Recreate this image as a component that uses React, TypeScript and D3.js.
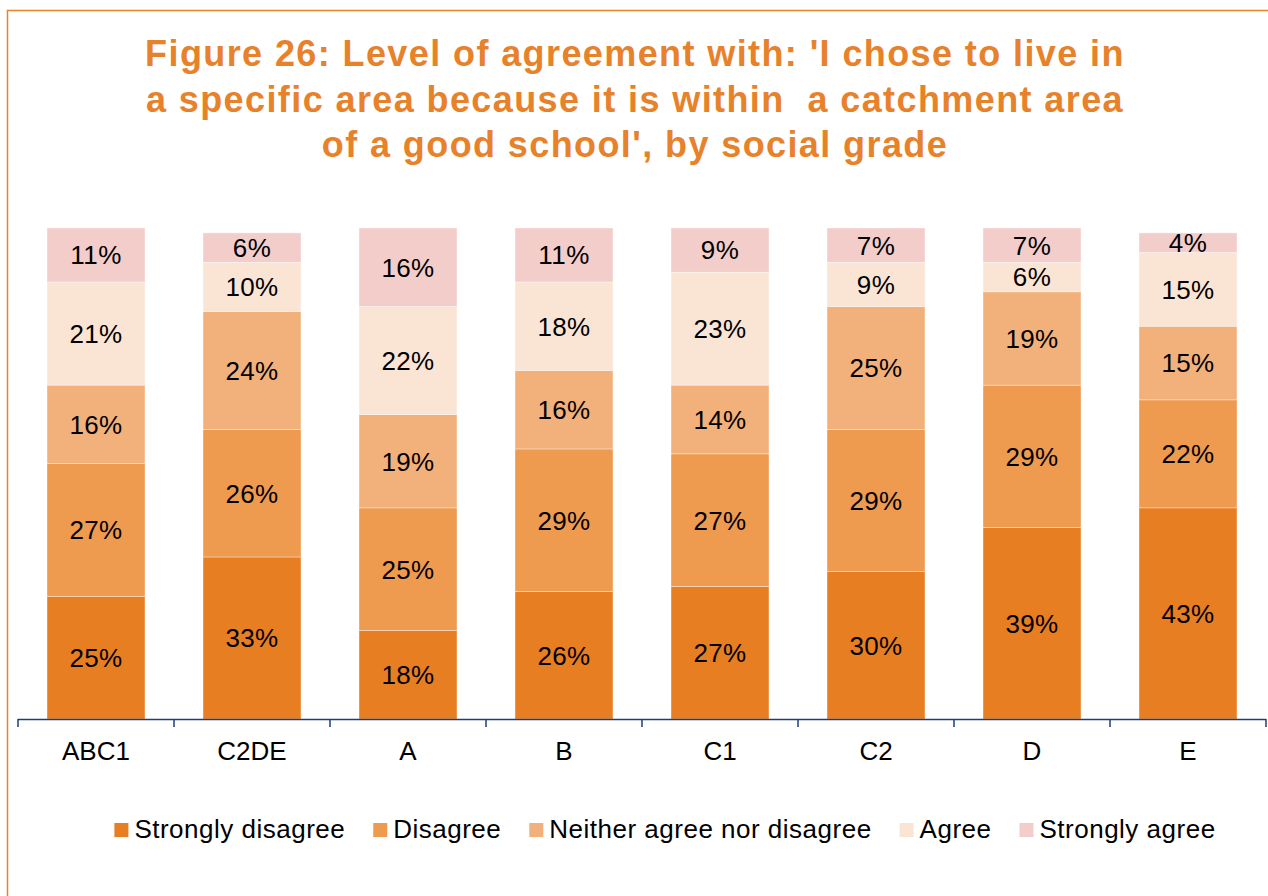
import React, { useEffect, useRef } from "react";
import * as d3 from "d3";

const categories = ["ABC1", "C2DE", "A", "B", "C1", "C2", "D", "E"];
const seriesNames = ["Strongly disagree", "Disagree", "Neither agree nor disagree", "Agree", "Strongly agree"];
const stronglyDisagree = [25, 33, 18, 26, 27, 30, 39, 43];
const disagree = [27, 26, 25, 29, 27, 29, 29, 22];
const neither = [16, 24, 19, 16, 14, 25, 19, 15];
const agree = [21, 10, 22, 18, 23, 9, 6, 15];
const stronglyAgree = [11, 6, 16, 11, 9, 7, 7, 4];
const colors = ["#E77E22", "#EE9A4F", "#F2B07A", "#FAE5D5", "#F3CDCA"];
const titleLines = [
  "Figure 26: Level of agreement with: 'I chose to live in",
  "a specific area because it is within  a catchment area",
  "of a good school', by social grade",
];

const W = 1268;
const H = 896;
const FONT = "'Liberation Sans', Arial, sans-serif";

export default function App() {
  const ref = useRef<SVGSVGElement>(null);
  useEffect(() => {
    const svg = d3.select(ref.current);
    svg.selectAll("*").remove();

    svg.append("rect").attr("x", 7.5).attr("y", 10.5).attr("width", 1290).attr("height", 910)
      .attr("fill", "#fff").attr("stroke", "#E8822A").attr("stroke-width", 1.5);

    svg.append("g").selectAll("text").data(titleLines).join("text")
      .attr("x", 635).attr("y", (_d, i) => 66 + i * 45.5)
      .attr("text-anchor", "middle").attr("font-family", FONT).attr("font-weight", "bold")
      .attr("font-size", 36).attr("letter-spacing", 1.4).attr("fill", "#E8822A").style("white-space", "pre")
      .text(d => d);

    const series = [stronglyDisagree, disagree, neither, agree, stronglyAgree];
    const rows = categories.map((c, i) => {
      const o: any = { cat: c };
      seriesNames.forEach((s, k) => (o[s] = series[k][i]));
      return o;
    });
    const stacked = d3.stack<any>().keys(seriesNames)(rows);

    const x = d3.scaleBand().domain(categories).range([18, 1266]).paddingInner(0.372).paddingOuter(0.186);
    const y = d3.scaleLinear().domain([0, 100]).range([719, 228]);

    const g = svg.append("g");
    stacked.forEach((layer, k) => {
      const lg = g.append("g");
      lg.selectAll("rect").data(layer).join("rect")
        .attr("x", (d: any) => x(d.data.cat)!)
        .attr("width", x.bandwidth())
        .attr("y", (d: any) => y(d[1]))
        .attr("height", (d: any) => y(d[0]) - y(d[1]))
        .attr("fill", colors[k])
        .attr("stroke", "#fff").attr("stroke-width", 0.6).attr("stroke-opacity", 0.6);
      lg.selectAll("text").data(layer).join("text")
        .attr("x", (d: any) => x(d.data.cat)! + x.bandwidth() / 2)
        .attr("y", (d: any) => (y(d[0]) + y(d[1])) / 2)
        .attr("dy", "0.36em")
        .attr("text-anchor", "middle").attr("font-family", FONT).attr("font-size", 26)
        .attr("letter-spacing", 0.4)
        .attr("fill", "#000")
        .text((d: any) => `${d[1] - d[0]}%`);
    });

    // axis
    const ax = svg.append("g");
    ax.append("line").attr("x1", 18).attr("x2", 1266).attr("y1", 719.5).attr("y2", 719.5)
      .attr("stroke", "#1F3C7A").attr("stroke-width", 1.5);
    const tickXs = categories.map(c => x(c)! - x.step() * x.paddingInner() / 2 ).concat([1266]);
    ax.selectAll("line.t").data(tickXs).join("line").attr("class", "t")
      .attr("x1", d => d).attr("x2", d => d).attr("y1", 719).attr("y2", 727)
      .attr("stroke", "#1F3C7A").attr("stroke-width", 1.5);
    ax.selectAll("text").data(categories).join("text")
      .attr("x", d => x(d)! + x.bandwidth() / 2).attr("y", 760)
      .attr("text-anchor", "middle").attr("font-family", FONT).attr("font-size", 26)
      .attr("fill", "#000").text(d => d);

    // legend
    const leg = svg.append("g");
    const items = leg.selectAll("g").data(seriesNames).join("g");
    items.append("rect").attr("width", 14).attr("height", 14).attr("y", 823)
      .attr("fill", (_d, i) => colors[i]);
    items.append("text").attr("x", 20).attr("y", 838).attr("font-family", FONT)
      .attr("font-size", 26).attr("letter-spacing", 0.5).attr("fill", "#000").text(d => d);
    const widths: number[] = [];
    items.each(function () {
      const t = d3.select(this).select("text").node() as SVGTextElement;
      widths.push(20 + t.getComputedTextLength());
    });
    const gap = 28;
    const total = d3.sum(widths) + gap * (widths.length - 1);
    let cx = 665 - total / 2;
    items.each(function (_d, i) {
      d3.select(this).attr("transform", `translate(${cx},0)`);
      cx += widths[i] + gap;
    });
  }, []);
  return (
    <svg ref={ref} width={W} height={H} style={{ position: "absolute", left: 0, top: 0, background: "#fff" }} />
  );
}
